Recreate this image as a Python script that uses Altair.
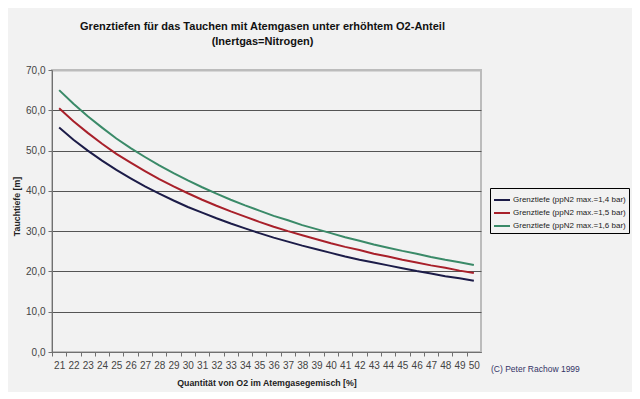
import altair as alt
import pandas as pd

o2 = list(range(21, 51))
series_names = [
    "Grenztiefe (ppN2 max.=1,4 bar)",
    "Grenztiefe (ppN2 max.=1,5 bar)",
    "Grenztiefe (ppN2 max.=1,6 bar)",
]
d14 = [55.7, 52.7, 50.0, 47.5, 45.2, 43.1, 41.1, 39.3, 37.6, 36.0,
       34.6, 33.2, 31.9, 30.7, 29.5, 28.4, 27.4, 26.4, 25.5, 24.6,
       23.7, 22.9, 22.2, 21.5, 20.8, 20.1, 19.5, 18.8, 18.3, 17.7]
d15 = [60.5, 57.3, 54.4, 51.7, 49.2, 47.0, 44.9, 42.9, 41.1, 39.4,
       37.8, 36.3, 34.9, 33.6, 32.3, 31.1, 30.0, 29.0, 28.0, 27.0,
       26.1, 25.3, 24.4, 23.7, 22.9, 22.2, 21.5, 20.9, 20.2, 19.6]
d16 = [65.0, 61.6, 58.5, 55.7, 53.0, 50.6, 48.4, 46.3, 44.4, 42.6,
       40.9, 39.3, 37.8, 36.4, 35.1, 33.8, 32.7, 31.5, 30.5, 29.5,
       28.5, 27.6, 26.7, 25.9, 25.1, 24.4, 23.6, 22.9, 22.3, 21.6]
colors = ["#1c1c48", "#a8202a", "#3a8a68"]
title_lines = ["Grenztiefen für das Tauchen mit Atemgasen unter erhöhtem O2-Anteil",
               "(Inertgas=Nitrogen)"]
copyright_text = ["(C) Peter Rachow 1999"]

rows = []
for name, vals in zip(series_names, [d14, d15, d16]):
    for x, y in zip(o2, vals):
        rows.append({"o2": x, "depth": y, "series": name})
df = pd.DataFrame(rows)

W, H = 429, 282
band = W / len(o2)
FONT = "Liberation Sans"

lines = alt.Chart(df).mark_line(strokeWidth=2).encode(
    x=alt.X("o2:O", title="Quantität von O2 im Atemgasegemisch [%]",
            scale=alt.Scale(type="point", padding=0.5),
            axis=alt.Axis(labelAngle=0, tickOffset=-band / 2, labelOffset=band / 2,
                          tickSize=4, domainColor="#707070", tickColor="#707070",
                          labelFont=FONT, labelFontSize=10, labelColor="#444444",
                          labelPadding=4, titleFont=FONT, titleFontSize=8.8,
                          titleFontWeight="bold", titleColor="#222222", titlePadding=8,
                          grid=False)),
    y=alt.Y("depth:Q", title="Tauchtiefe [m]",
            scale=alt.Scale(domain=[0, 70], nice=False),
            axis=alt.Axis(values=[0, 10, 20, 30, 40, 50, 60, 70],
                          labelExpr="replace(format(datum.value, '.1f'), '.', ',')",
                          tickSize=4, domainColor="#707070", tickColor="#707070",
                          labelFont=FONT, labelFontSize=10, labelColor="#444444",
                          labelPadding=3, titleFont=FONT, titleFontSize=8.8,
                          titleFontWeight="bold", titleColor="#222222",
                          titleX=-31, titleY=136,
                          grid=True,
                          gridColor=alt.condition("datum.value == 70", alt.value("#bcbcbc"), alt.value("#555555")),
                          gridWidth=alt.condition("datum.value == 70", alt.value(2), alt.value(1)))),
    color=alt.Color("series:N", scale=alt.Scale(domain=series_names, range=colors),
                    legend=alt.Legend(title=None, orient="none", legendX=438, legendY=118,
                                      symbolType="stroke", symbolSize=256, symbolStrokeWidth=2,
                                      labelFont=FONT, labelFontSize=8, labelColor="#222222",
                                      strokeColor="#000000", padding=3, rowPadding=0,
                                      labelOffset=2, fillColor="#f2f2f2")),
)

note = alt.Chart(pd.DataFrame({"t": copyright_text})).mark_text(
    align="left", baseline="middle", font=FONT, fontSize=8.5, color="#333366"
).encode(x=alt.value(439), y=alt.value(299), text="t:N")

chart = alt.layer(lines, note).properties(
    width=W, height=H,
    title=alt.TitleParams(title_lines, font=FONT, fontSize=11, fontWeight="bold",
                          color="#111111", anchor="middle", offset=18, lineHeight=15, dx=-4),
    autosize=alt.AutoSizeParams(type="none"),
    padding={"left": 44, "top": 62, "right": 151, "bottom": 40},
    background="#f2f2f2",
).configure_view(stroke="#bcbcbc", strokeWidth=2)

chart.save("out.html", embed_options={"renderer": "svg", "actions": False})
